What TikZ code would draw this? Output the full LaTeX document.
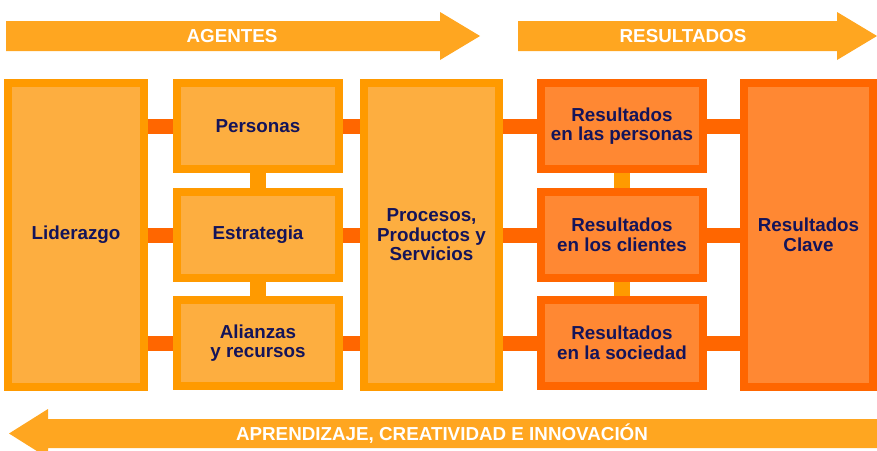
\documentclass[tikz,border=0pt]{standalone}
\usepackage{fontspec}
\setmainfont{Liberation Sans}
\usetikzlibrary{backgrounds}
\definecolor{arrowfill}{HTML}{FFA620}
\definecolor{agborder}{HTML}{FF9A00}
\definecolor{agfill}{HTML}{FDAE40}
\definecolor{resborder}{HTML}{FF6600}
\definecolor{resfill}{HTML}{FF8833}
\definecolor{hconn}{HTML}{FF6600}
\definecolor{navytext}{HTML}{14145A}
\tikzset{
  agbox/.style={draw=agborder, fill=agfill, line width=8pt, inner sep=0pt, outer sep=0pt,
    text=navytext, font=\bfseries\fontsize{18.8}{19.5}\selectfont, align=center},
  resbox/.style={agbox, draw=resborder, fill=resfill},
  hline/.style={draw=hconn, line width=15pt},
  vline/.style={draw=agborder, line width=16pt},
  arrowtext/.style={text=white, font=\bfseries\fontsize{18.8}{20}\selectfont, inner sep=0pt}
}
\begin{document}
\begin{tikzpicture}[x=1pt, y=-1pt]
\useasboundingbox (0,0) rectangle (877,450);
% arrows
\fill[arrowfill] (6,21) -- (440,21) -- (440,12) -- (480,36) -- (440,60) -- (440,51) -- (6,51) -- cycle;
\fill[arrowfill] (518,21) -- (837,21) -- (837,12) -- (877,36) -- (837,60) -- (837,51) -- (518,51) -- cycle;
\fill[arrowfill] (877,419) -- (48,419) -- (48,409) -- (9,433.5) -- (48,458) -- (48,448) -- (877,448) -- cycle;
\node[arrowtext] (tag) at (232,36) {AGENTES};
\node[arrowtext] (tres) at (683,36) {RESULTADOS};
\node[arrowtext] (tapr) at (442,433.5) {APRENDIZAJE, CREATIVIDAD E INNOVACIÓN};
% boxes
\node[agbox, minimum width=136pt, minimum height=304pt] (lid) at (76,235) {Liderazgo};
\node[agbox, minimum width=162pt, minimum height=86pt] (per) at (258,126) {Personas};
\node[agbox, minimum width=162pt, minimum height=86pt] (est) at (258,235) {Estrategia};
\node[agbox, minimum width=162pt, minimum height=86pt] (ali) at (258,343) {Alianzas\\y recursos};
\node[agbox, minimum width=135pt, minimum height=304pt] (pro) at (431.5,235) {Procesos,\\Productos y\\Servicios};
\node[resbox, minimum width=162pt, minimum height=86pt] (rp) at (622,126) {Resultados\\en las personas};
\node[resbox, minimum width=162pt, minimum height=86pt] (rc) at (622,235) {Resultados\\en los clientes};
\node[resbox, minimum width=162pt, minimum height=86pt] (rs) at (622,343) {Resultados\\en la sociedad};
\node[resbox, minimum width=129pt, minimum height=304pt] (clave) at (808.5,235) {Resultados\\Clave};
% connectors
\begin{scope}[on background layer]
\foreach \b in {per, est, ali}{
  \draw[hline] (lid.east |- \b.west) -- (\b.west);
  \draw[hline] (\b.east) -- (pro.west |- \b.east);
}
\foreach \b in {rp, rc, rs}{
  \draw[hline] (pro.east |- \b.west) -- (\b.west);
  \draw[hline] (\b.east) -- (clave.west |- \b.east);
}
\draw[vline] (per.south) -- (est.north);
\draw[vline] (est.south) -- (ali.north);
\draw[vline] (rp.south) -- (rc.north);
\draw[vline] (rc.south) -- (rs.north);
\end{scope}
\end{tikzpicture}
\end{document}
